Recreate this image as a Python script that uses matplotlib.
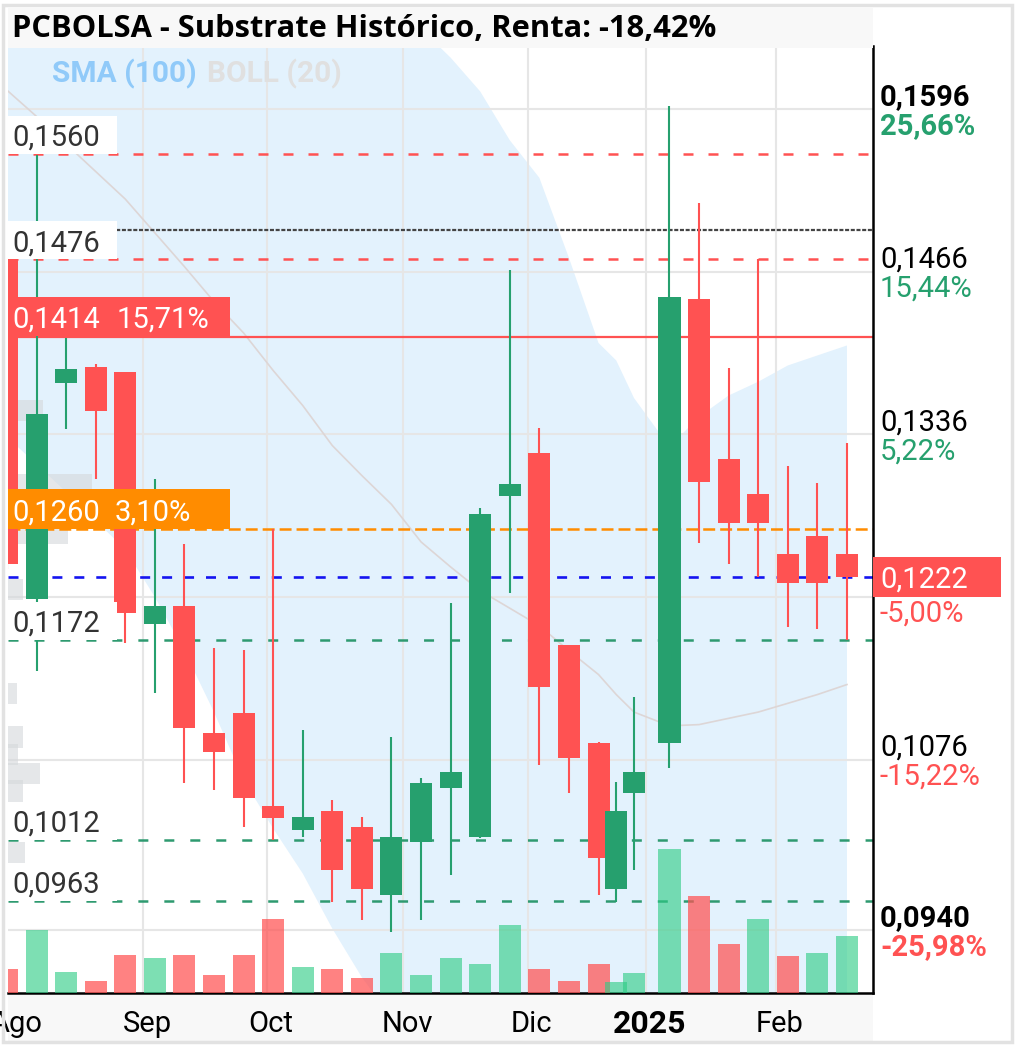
import numpy as np
import matplotlib
matplotlib.use("Agg")
import matplotlib.pyplot as plt
import matplotlib.transforms as mtransforms
from matplotlib.colors import to_rgba
from matplotlib.patches import Rectangle

plt.rcParams['font.family'] = ['Roboto', 'DejaVu Sans']
plt.rcParams['lines.scale_dashes'] = False

# velas semanales, fecha = sesion central de la semana
fechas = ['2024-07-31', '2024-08-07', '2024-08-14', '2024-08-21', '2024-08-28',
          '2024-09-04', '2024-09-11', '2024-09-18', '2024-09-25', '2024-10-02',
          '2024-10-09', '2024-10-16', '2024-10-23', '2024-10-30', '2024-11-06',
          '2024-11-13', '2024-11-20', '2024-11-27', '2024-12-04', '2024-12-11',
          '2024-12-18', '2024-12-23', '2024-12-30', '2025-01-08', '2025-01-15',
          '2025-01-22', '2025-01-29', '2025-02-05', '2025-02-12', '2025-02-19']
apertura = [0.1477, 0.1204, 0.1377, 0.1390, 0.1386, 0.1184, 0.1199, 0.1097, 0.1113, 0.1039,
            0.1020, 0.1035, 0.1022, 0.0968, 0.1010, 0.1053, 0.1014, 0.1287, 0.1321, 0.1168,
            0.1089, 0.0973, 0.1049, 0.1089, 0.1444, 0.1316, 0.1288, 0.1240, 0.1255, 0.1240]
maximo = [0.1479, 0.1559, 0.1413, 0.1392, 0.1386, 0.1300, 0.1248, 0.1165, 0.1164, 0.1260,
          0.1100, 0.1044, 0.1030, 0.1094, 0.1061, 0.1201, 0.1277, 0.1467, 0.1341, 0.1168,
          0.1090, 0.1058, 0.1126, 0.1598, 0.1521, 0.1389, 0.1476, 0.1311, 0.1297, 0.1329]
minimo = [0.1228, 0.1147, 0.1340, 0.1300, 0.1169, 0.1129, 0.1057, 0.1052, 0.1022, 0.1012,
          0.1014, 0.0962, 0.0948, 0.0938, 0.0948, 0.0984, 0.1013, 0.1209, 0.1072, 0.1049,
          0.0968, 0.0962, 0.0988, 0.1069, 0.1249, 0.1232, 0.1222, 0.1182, 0.1180, 0.1172]
cierre = [0.1232, 0.1352, 0.1388, 0.1355, 0.1193, 0.1199, 0.1101, 0.1082, 0.1045, 0.1029,
          0.1030, 0.0988, 0.0973, 0.1014, 0.1057, 0.1066, 0.1272, 0.1296, 0.1134, 0.1077,
          0.0997, 0.1035, 0.1066, 0.1446, 0.1298, 0.1265, 0.1265, 0.1217, 0.1217, 0.1222]
volumen = [24000, 63000, 21000, 12000, 38000, 35000, 38000, 18000, 38000, 74000,
           26000, 24000, 15000, 40000, 18000, 35000, 29000, 68000, 24000, 12000,
           29000, 11000, 20000, 144000, 97000, 49000, 74000, 37000, 40000, 57000]

boll_sup = [0.1888, 0.1868, 0.1846, 0.1825, 0.1804, 0.1788, 0.1777, 0.1770, 0.1774, 0.1753,
            0.1733, 0.1713, 0.1704, 0.1690, 0.1660, 0.1637, 0.1610, 0.1571, 0.1541, 0.1477,
            0.1409, 0.1395, 0.1365, 0.1326, 0.1350, 0.1367, 0.1378, 0.1391, 0.1399, 0.1407]
boll_med = [0.1611, 0.1590, 0.1568, 0.1546, 0.1524, 0.1497, 0.1470, 0.1442, 0.1417, 0.1387,
            0.1359, 0.1327, 0.1303, 0.1280, 0.1250, 0.1230, 0.1211, 0.1197, 0.1183, 0.1163,
            0.1144, 0.1128, 0.1114, 0.1103, 0.1104, 0.1109, 0.1114, 0.1121, 0.1128, 0.1136]
boll_inf = [0.1334, 0.1312, 0.1290, 0.1267, 0.1244, 0.1206, 0.1163, 0.1114, 0.1060, 0.1021,
            0.0985, 0.0941, 0.0902, 0.0870, 0.0840, 0.0823, 0.0812, 0.0823, 0.0825, 0.0849,
            0.0879, 0.0861, 0.0863, 0.0880, 0.0858, 0.0851, 0.0850, 0.0851, 0.0857, 0.0865]

# perfil de volumen por precio (izquierda)
perfil_precio = [0.1355, 0.1296, 0.1278, 0.1257, 0.1212, 0.1129, 0.1094, 0.1080, 0.1065, 0.1051, 0.1002]
perfil_vol = [35, 84, 84, 60, 15, 9, 15, 10, 32, 15, 17]

festivos = ['2024-12-25', '2024-12-26', '2025-01-01']
inicio = '2024-08-01'
meses = ['2024-08-01', '2024-09-02', '2024-10-01', '2024-11-01', '2024-12-02', '2025-01-02', '2025-02-03']
meses_txt = ['Ago', 'Sep', 'Oct', 'Nov', 'Dic', '2025', 'Feb']

niveles_rojos = [0.1560, 0.1476]
niveles_verdes = [0.1172, 0.1012, 0.0963]
nivel_punteado = 0.1499
nivel_stop, stop_pct = 0.1414, '15,71%'
nivel_naranja, naranja_pct = 0.1260, '3,10%'
precio_actual, actual_pct = 0.1222, '-5,00%'
eje_precios = [0.1596, 0.1466, 0.1336, 0.1206, 0.1076, 0.0940]
eje_pct = ['25,66%', '15,44%', '5,22%', '', '-15,22%', '-25,98%']

titulo = 'PCBOLSA - Substrate Histórico, Renta: -18,42%'

VERDE = '#26a06e'
ROJO = '#ff5252'

def fmt(v):
    return f'{v:.4f}'.replace('.', ',')

x = np.busday_count(np.datetime64(inicio), np.array(fechas, dtype='datetime64[D]'), holidays=festivos)
x_mes = np.busday_count(np.datetime64(inicio), np.array(meses, dtype='datetime64[D]'), holidays=festivos)
o = np.array(apertura); h = np.array(maximo); l = np.array(minimo); c = np.array(cierre)

W, H = 1017, 1048
fig = plt.figure(figsize=(W / 100, H / 100), dpi=100)
ax = fig.add_axes([8 / W, 1 - 993 / H, 865 / W, 947 / H])
ax.set_xlim(-0.82, 145.4)
ax.set_ylim(0.08895, 0.16463)

# fondo: banda y media
ax.fill_between(x, boll_inf, boll_sup, color='#e3f2fd', lw=0, zorder=1)
ax.plot(x, boll_med, color='#ddd6d6', lw=1.2, zorder=1.6)

# rejilla
for v in eje_precios:
    ax.axhline(v, color='#e6e6e6', lw=1.5, zorder=1.2)
for xm in x_mes[1:]:
    ax.axvline(xm, color='#e6e6e6', lw=1.5, zorder=1.2)

# perfil de volumen
ax.barh(perfil_precio, np.array(perfil_vol) / 5.916, left=-0.82, height=0.0017,
        color='#d5d8db', alpha=0.6, lw=0, zorder=1.3)

# niveles
for v in niveles_rojos:
    ax.axhline(v, color=ROJO, lw=1.8, dashes=(7.2, 10.8), zorder=2)
for v in niveles_verdes:
    ax.axhline(v, color='#2e9a70', lw=1.8, dashes=(7.2, 11.5), zorder=2)
ax.axhline(nivel_punteado, color='#444444', lw=1.6, dashes=(2.9, 1.2), zorder=2)
ax.axhline(nivel_stop, color=ROJO, lw=1.6, zorder=2)
ax.axhline(nivel_naranja, color='#ff8c00', lw=1.8, dashes=(8.6, 3.6), zorder=2)
ax.axhline(precio_actual, color='#1414f0', lw=1.9, dashes=(7.2, 8.6), zorder=2)

# velas
ancho = 3.72
col = np.where(c >= o, VERDE, ROJO)
ax.vlines(x, l, h, colors=col, lw=1.5, zorder=3)
ax.bar(x, np.maximum(np.abs(c - o), 0.0002), bottom=np.minimum(o, c), width=ancho,
       color=col, lw=0, zorder=3.1)

# volumen
axv = ax.twinx()
axv.set_ylim(0, 947000)
sube = np.concatenate([[c[0] >= o[0]], c[1:] >= c[:-1]])
col_vol = [to_rgba('#2ecc85', 0.62) if s else to_rgba(ROJO, 0.72) for s in sube]
axv.bar(x, volumen, width=ancho, color=col_vol, lw=0)
axv.axis('off')

for s in ['top', 'left']:
    ax.spines[s].set_visible(False)
for s in ['bottom', 'right']:
    ax.spines[s].set_linewidth(1.8)
    ax.spines[s].set_color('black')
ax.set_xticks([])
ax.set_yticks([])

blend = mtransforms.blended_transform_factory(ax.transAxes, ax.transData)

def caja(xf, v, x0, y0, w, hh, color):
    tr = mtransforms.Affine2D() + mtransforms.ScaledTranslation(xf, v, blend)
    ax.add_patch(Rectangle((x0, y0), w, hh, transform=tr, facecolor=color,
                           edgecolor='none', zorder=5, clip_on=False))

def texto(xf, v, dx, dy, s, color, **kw):
    ax.annotate(s, (xf, v), xycoords=blend, xytext=(dx, dy - 3), textcoords='offset pixels',
                ha='left', va='center', color=color, fontsize=21, zorder=6,
                annotation_clip=False, **kw)

# etiquetas izquierda
for v in niveles_rojos + niveles_verdes:
    caja(0, v, 0, 0, 109, 38, 'white')
    texto(0, v, 4, 19, fmt(v), '#333333')
caja(0, nivel_stop, 0, 1, 222, 39, ROJO)
texto(0, nivel_stop, 4, 20, fmt(nivel_stop), 'white')
texto(0, nivel_stop, 109, 20, stop_pct, 'white')
caja(0, nivel_naranja, 0, 0, 222, 40, '#ff8c00')
texto(0, nivel_naranja, 4, 20, fmt(nivel_naranja), 'white')
texto(0, nivel_naranja, 107, 20, naranja_pct, 'white')

# etiquetas derecha
for i, (v, p) in enumerate(zip(eje_precios, eje_pct)):
    if not p:
        continue
    peso = 'bold' if i in (0, len(eje_precios) - 1) else 'normal'
    texto(1, v, 7, 15, fmt(v), 'black', fontweight=peso)
    texto(1, v, 7, -14, p, ROJO if p.startswith('-') else VERDE, fontweight=peso)
caja(1, precio_actual, 0, -20, 128, 40, ROJO)
texto(1, precio_actual, 7, 0, fmt(precio_actual), 'white')
texto(1, precio_actual, 7, -34, actual_pct, ROJO)

# meses
for xm, t in zip(x_mes, meses_txt):
    negrita = t == '2025'
    ax.annotate(t, (xm, 0), xycoords=('data', 'axes fraction'), xytext=(4, -31),
                textcoords='offset pixels', ha='center', va='center',
                fontsize=23 if negrita else 21, fontweight='bold' if negrita else 'normal',
                color='black', annotation_clip=False)

# marco, cabecera y leyenda
fig.add_artist(Rectangle((8 / W, 1 - 1041 / H), 865 / W, 46 / H, transform=fig.transFigure,
                         color='#f8f8f8', lw=0, zorder=-1))
fig.add_artist(Rectangle((8 / W, 1 - 48 / H), 865 / W, 40 / H, transform=fig.transFigure,
                         color='#f8f8f8', lw=0, zorder=5))
fig.text(12 / W, 1 - 29 / H, titulo, fontsize=22.2, fontweight='bold', family='Open Sans',
         va='center', ha='left', zorder=6)
fig.text(52 / W, 1 - 74 / H, 'SMA (100)', fontsize=21.5, fontweight='bold', color='#90caf9',
         va='center', ha='left', zorder=6)
fig.text(207 / W, 1 - 74 / H, 'BOLL (20)', fontsize=21.5, fontweight='bold', color='#e0e0e0',
         va='center', ha='left', zorder=6)
fig.add_artist(Rectangle((2.5 / W, 1 - 1042 / H), 1009 / W, 1037 / H, transform=fig.transFigure,
                         fill=False, edgecolor='#e2e2e2', lw=2.5, zorder=10))

fig.savefig('out.png', dpi=100, facecolor='white')
